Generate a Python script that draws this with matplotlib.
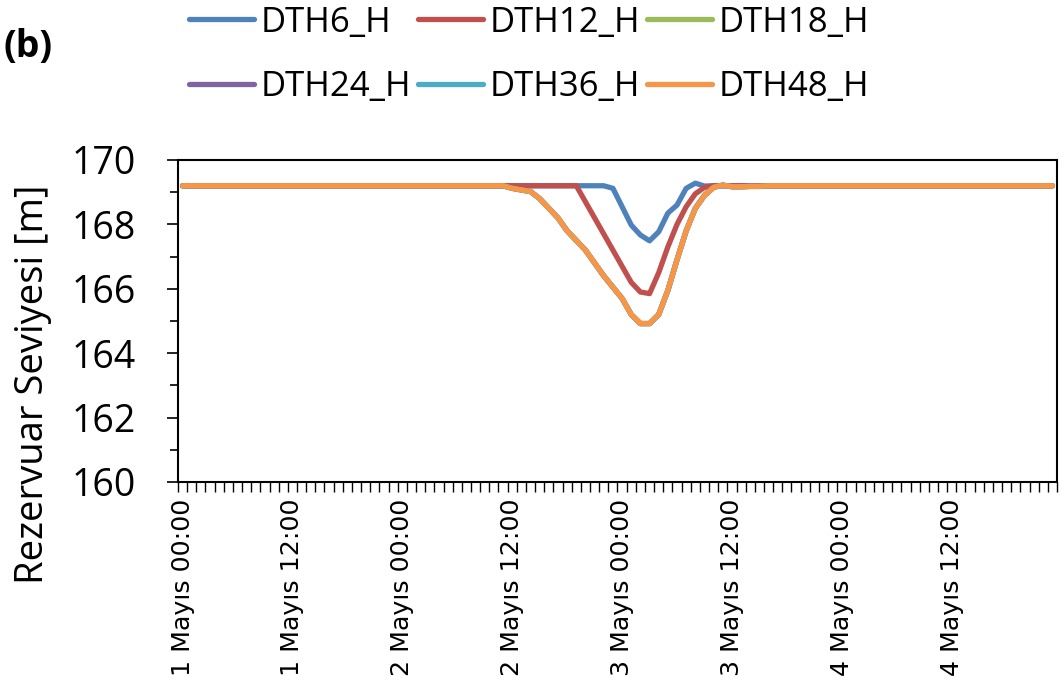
import numpy as np
import matplotlib
matplotlib.use("Agg")
import matplotlib.pyplot as plt

# === DATOS (niveles horarios, 96 horas desde 1 Mayıs 00:00) ===
hours = np.arange(96) + 0.5
base = 169.2

dth6 = [base] * 47 + [169.12, 168.55, 167.98, 167.67, 167.49, 167.77, 168.35, 168.6,
                      169.12, 169.28, 169.19] + [base] * 38
dth12 = [base] * 44 + [168.7, 168.2, 167.7, 167.2, 166.7, 166.2, 165.9, 165.85, 166.5,
                       167.3, 168.0, 168.55, 168.95, 169.15] + [base] * 38
dth48 = [base] * 36 + [169.12, 169.07, 169.02, 168.8, 168.5, 168.2, 167.8, 167.5, 167.2,
                       166.8, 166.4, 166.05, 165.7, 165.2, 164.92, 164.92, 165.2, 165.95,
                       166.9, 167.8, 168.5, 168.9, 169.15, 169.22, 169.17, 169.17,
                       169.18, 169.18] + [base] * 32
# las series 18/24/36 quedan ocultas bajo DTH48
dth18 = list(dth48)
dth24 = list(dth48)
dth36 = list(dth48)

series = {
    "DTH6_H": dth6,
    "DTH12_H": dth12,
    "DTH18_H": dth18,
    "DTH24_H": dth24,
    "DTH36_H": dth36,
    "DTH48_H": dth48,
}
colors = ["#4F81BD", "#C0504D", "#9BBB59", "#8064A2", "#4BACC6", "#F79646"]

tick_labels = ["1 Mayıs 00:00", "1 Mayıs 12:00", "2 Mayıs 00:00", "2 Mayıs 12:00",
               "3 Mayıs 00:00", "3 Mayıs 12:00", "4 Mayıs 00:00", "4 Mayıs 12:00"]
tick_pos = [0.5 + 12 * i for i in range(len(tick_labels))]

# === GRAFICO ===
plt.rcParams["font.family"] = ["Open Sans", "DejaVu Sans"]
fig = plt.figure(figsize=(10.62, 6.92), dpi=100)
ax = fig.add_axes([0.1676, 0.3035, 0.8277, 0.4653])

lines = []
for (name, vals), c in zip(series.items(), colors):
    ln, = ax.plot(hours, vals, color=c, lw=3.8, label=name, solid_capstyle="round",
                  solid_joinstyle="round")
    lines.append(ln)

ax.set_xlim(0, 96)
ax.set_ylim(160, 170)
ax.set_yticks(np.arange(160, 171, 2))
ax.set_yticks(np.arange(161, 170, 2), minor=True)
ax.tick_params(axis="y", which="major", length=8, width=1.2, pad=22, labelsize=27)
ax.tick_params(axis="y", which="minor", length=6, width=1.2)

ax.set_xticks(np.arange(0, 97, 1))
ax.set_xticklabels([])
ax.set_xticks(tick_pos, tick_labels, minor=True)
ax.tick_params(axis="x", which="major", length=7, width=1.0)
ax.tick_params(axis="x", which="minor", length=0, pad=12, labelsize=18.2, rotation=90)
for lab in ax.get_xticklabels(minor=True):
    lab.set_family("DejaVu Sans")

for sp in ax.spines.values():
    sp.set_linewidth(1.5)

ax.set_ylabel("Rezervuar Seviyesi [m]", fontsize=27.5)
ax.yaxis.set_label_coords(-0.143, 0.305)

# leyenda por filas (matplotlib llena por columnas)
order = [0, 3, 1, 4, 2, 5]
fig.legend([lines[i] for i in order], [lines[i].get_label() for i in order],
           loc="upper left", bbox_to_anchor=(0.178, 0.992), ncol=3, frameon=False,
           fontsize=25, handlelength=1.86, handletextpad=0.2, columnspacing=0.2,
           labelspacing=0.88, borderpad=0, borderaxespad=0)

fig.text(0.003, 0.932, "(b)", fontsize=27, fontweight="bold", va="center")

fig.savefig("out.png", dpi=100)
